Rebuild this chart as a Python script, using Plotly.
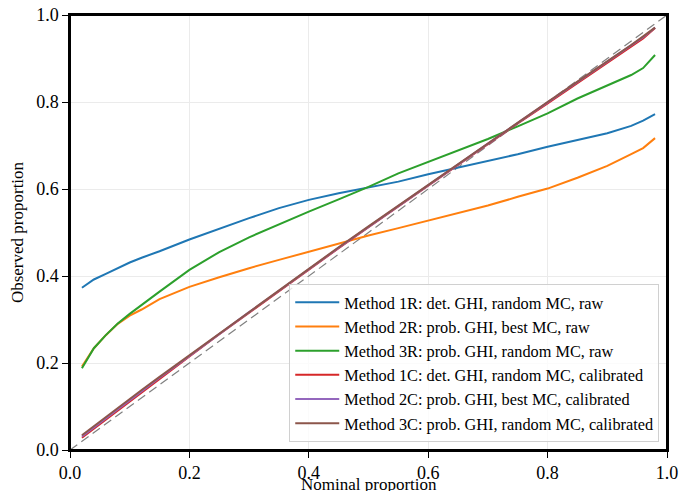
import plotly.graph_objects as go

nominal = [0.02, 0.04, 0.06, 0.08, 0.10, 0.12, 0.15, 0.20, 0.25, 0.30, 0.35, 0.40, 0.45,
           0.50, 0.55, 0.60, 0.65, 0.70, 0.75, 0.80, 0.85, 0.90, 0.94, 0.96, 0.98]

m1r = [0.373, 0.392, 0.405, 0.418, 0.431, 0.442, 0.457, 0.484, 0.509, 0.533, 0.556, 0.575, 0.590,
       0.604, 0.617, 0.634, 0.649, 0.664, 0.680, 0.697, 0.712, 0.728, 0.745, 0.757, 0.772]
m2r = [0.192, 0.234, 0.264, 0.290, 0.309, 0.323, 0.347, 0.375, 0.397, 0.418, 0.437, 0.456, 0.475,
       0.493, 0.510, 0.527, 0.544, 0.562, 0.582, 0.601, 0.626, 0.653, 0.680, 0.694, 0.717]
m3r = [0.188, 0.234, 0.264, 0.291, 0.313, 0.334, 0.364, 0.414, 0.455, 0.489, 0.519, 0.548, 0.576,
       0.605, 0.636, 0.662, 0.688, 0.715, 0.744, 0.774, 0.808, 0.838, 0.862, 0.878, 0.908]
m1c = [0.028, 0.049, 0.070, 0.091, 0.112, 0.133, 0.164, 0.215, 0.266, 0.316, 0.365, 0.415, 0.464,
       0.512, 0.560, 0.608, 0.656, 0.704, 0.751, 0.797, 0.843, 0.889, 0.926, 0.946, 0.970]
m2c = [0.031, 0.052, 0.073, 0.094, 0.115, 0.135, 0.166, 0.216, 0.267, 0.317, 0.366, 0.416, 0.465,
       0.513, 0.561, 0.609, 0.657, 0.705, 0.752, 0.799, 0.846, 0.892, 0.929, 0.949, 0.971]
m3c = [0.034, 0.055, 0.076, 0.097, 0.118, 0.138, 0.168, 0.218, 0.268, 0.318, 0.367, 0.417, 0.466,
       0.514, 0.562, 0.610, 0.658, 0.706, 0.753, 0.800, 0.847, 0.893, 0.931, 0.951, 0.971]

names = ["Method 1R: det. GHI, random MC, raw",
         "Method 2R: prob. GHI, best MC, raw",
         "Method 3R: prob. GHI, random MC, raw",
         "Method 1C: det. GHI, random MC, calibrated",
         "Method 2C: prob. GHI, best MC, calibrated",
         "Method 3C: prob. GHI, random MC, calibrated"]
series = [m1r, m2r, m3r, m1c, m2c, m3c]
colors = ["#1f77b4", "#ff7f0e", "#2ca02c", "#d62728", "#9467bd", "#8c564b"]

diag = [0.0, 1.0]

fig = go.Figure()
fig.add_trace(go.Scatter(x=diag, y=diag, mode="lines", showlegend=False,
                         line=dict(color="#808080", width=1.2, dash="9px,5px")))
for name, ys, c in zip(names, series, colors):
    fig.add_trace(go.Scatter(x=nominal, y=ys, mode="lines", name=name,
                             line=dict(color=c, width=2)))

font = "Liberation Serif"
axis_common = dict(range=[0, 1], dtick=0.2, tickformat=".1f", showgrid=True,
                   gridcolor="#ebebeb", gridwidth=1, showline=True, linecolor="black",
                   linewidth=1.5, mirror=True, ticks="outside", ticklen=6, tickcolor="black",
                   zeroline=False, automargin=False, ticklabeloverflow="allow",
                   tickfont=dict(family=font, size=18, color="black"))
fig.update_xaxes(**axis_common)
fig.update_yaxes(**axis_common, title=dict(text="Observed proportion", standoff=10,
                                           font=dict(family=font, size=17, color="black")))

# x-axis title placed just under the tick labels
fig.add_annotation(text="Nominal proportion", xref="paper", yref="paper", x=0.5, y=0,
                   xanchor="center", yanchor="top", yshift=-23, showarrow=False,
                   font=dict(family=font, size=17, color="black"))

# full frame around the plotting area
fig.add_shape(type="rect", xref="paper", yref="paper", x0=0, y0=0, x1=1, y1=1,
              line=dict(color="black", width=2), layer="above")

fig.update_layout(
    width=694, height=491,
    margin=dict(l=62, r=35, t=7, b=49),
    plot_bgcolor="white", paper_bgcolor="white",
    font=dict(family=font, size=17, color="black"),
    legend=dict(x=0.987, y=0.018, xanchor="right", yanchor="bottom",
                bgcolor="rgba(255,255,255,0.8)", bordercolor="#d0d0d0", borderwidth=1,
                itemwidth=44,
                font=dict(family=font, size=16.3, color="black"), tracegroupgap=0),
)

fig.write_html("out.html")
